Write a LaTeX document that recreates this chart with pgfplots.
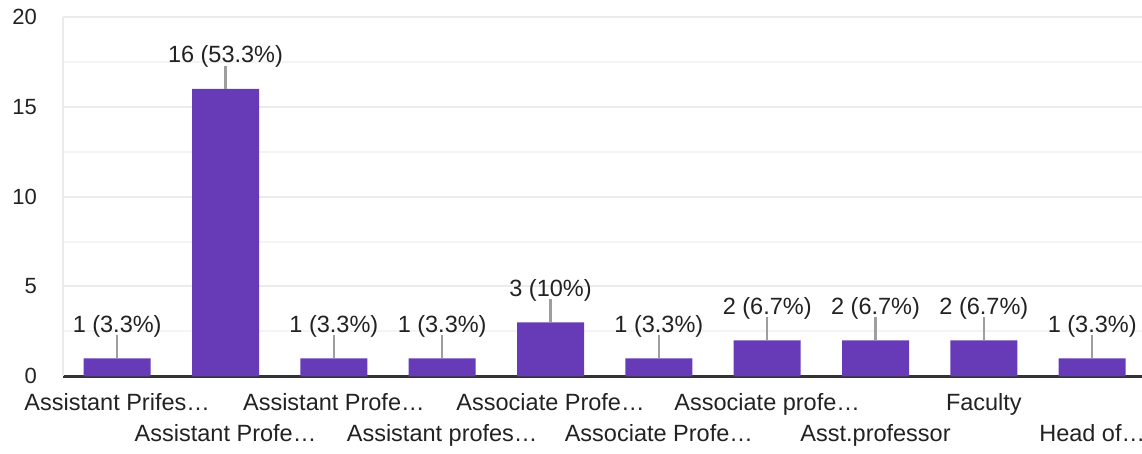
\documentclass[border=0pt]{standalone}
\usepackage{fontspec}
\setmainfont{Liberation Sans}
\usepackage{pgfplots}
\pgfplotsset{compat=1.18}
\definecolor{barc}{HTML}{673AB7}
\definecolor{leader}{HTML}{9E9E9E}
\definecolor{txt}{HTML}{222222}
\definecolor{gridmaj}{HTML}{EBEBEB}
\definecolor{gridmin}{HTML}{F4F4F4}
\definecolor{axisc}{HTML}{333333}
\begin{document}
\begin{tikzpicture}[x=1pt,y=1pt]
\path[use as bounding box] (-63,-77) rectangle (1079,376.3);
\begin{axis}[
  at={(0,0)}, anchor=south west,
  scale only axis, width=1079pt, height=359.3pt,
  xmin=-0.5, xmax=9.46, ymin=0, ymax=20,
  ybar, bar width=67pt,
  axis x line*=bottom, axis y line*=left,
  x axis line style={axisc, line width=2.6pt},
  y axis line style={gridmaj, line width=2pt},
  ytick={0,5,10,15,20}, minor ytick={2.5,7.5,12.5,17.5},
  ymajorgrids, yminorgrids,
  major grid style={gridmaj, line width=2pt},
  minor grid style={gridmin, line width=2pt},
  major tick length=0pt, minor tick length=0pt,
  tick style={draw=none},
  xtick={0,2,4,6,8},
  xticklabels={Assistant Prifes…, Assistant Profe…, Associate Profe…, Associate profe…, Faculty},
  extra x ticks={1,3,5,7,9},
  extra x tick labels={Assistant Profe…, Assistant profes…, Associate Profe…, Asst.professor, Head of…},
  extra x tick style={xticklabel style={yshift=-31pt}},
  xticklabel style={anchor=base, yshift=-34pt, inner sep=0pt, font=\fontsize{23.5}{28}\selectfont, text=txt},
  yticklabel style={anchor=east, xshift=-26pt, inner sep=0pt, font=\fontsize{22}{26}\selectfont, text=txt},
  /pgf/number format/assume math mode=true,
  nodes near coords,
  point meta=explicit symbolic,
  every node near coord/.append style={anchor=base, inner sep=0pt, yshift=26pt, font=\fontsize{23.5}{28}\selectfont, text=txt},
]
\addplot[fill=barc, draw=none,
  error bars/.cd, y dir=plus, y fixed=1.28, error mark=none,
  error bar style={leader, line width=2.2pt}]
coordinates {
  (0,1) [1 (3.3\%)]
  (1,16) [16 (53.3\%)]
  (2,1) [1 (3.3\%)]
  (3,1) [1 (3.3\%)]
  (4,3) [3 (10\%)]
  (5,1) [1 (3.3\%)]
  (6,2) [2 (6.7\%)]
  (7,2) [2 (6.7\%)]
  (8,2) [2 (6.7\%)]
  (9,1) [1 (3.3\%)]
};
\end{axis}
\end{tikzpicture}
\end{document}
